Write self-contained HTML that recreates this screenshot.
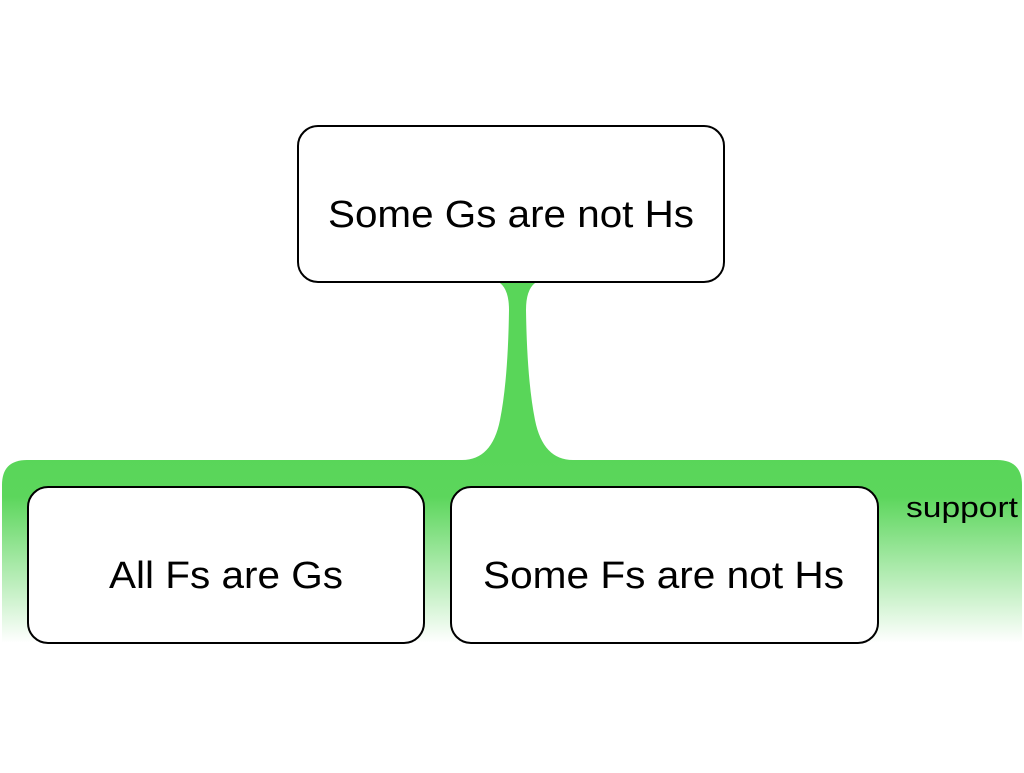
<!DOCTYPE html>
<html><head><style>
body{margin:0;background:#fff;width:1024px;height:768px;overflow:hidden;font-family:"Liberation Sans",sans-serif}
</style></head><body>
<svg width="1024" height="768" xmlns="http://www.w3.org/2000/svg">
<defs>
<linearGradient id="g" x1="0" y1="460" x2="0" y2="643" gradientUnits="userSpaceOnUse">
<stop offset="0" stop-color="#59d659"/>
<stop offset="0.2" stop-color="#5cd65c"/>
<stop offset="1" stop-color="#ffffff"/>
</linearGradient>
</defs>
<path d="M2,643 L2,485 Q2,460 27,460 L462,460 Q492,460 500,420 Q508,380 509,310 Q509,290 500,283 L535,283 Q526,290 526,310 Q527,380 535,420 Q543,460 573,460 L997,460 Q1022,460 1022,485 L1022,643 Z" fill="url(#g)"/>
<rect x="298" y="126" width="426" height="156" rx="20" fill="#fff" stroke="#000" stroke-width="2"/>
<rect x="28" y="487" width="396" height="156" rx="20" fill="#fff" stroke="#000" stroke-width="2"/>
<rect x="451" y="487" width="427" height="156" rx="20" fill="#fff" stroke="#000" stroke-width="2"/>
<g font-family="Liberation Sans, sans-serif" font-size="38" fill="#000">
<text x="328" y="227" textLength="366" lengthAdjust="spacingAndGlyphs">Some Gs are not Hs</text>
<text x="109" y="588" textLength="234" lengthAdjust="spacingAndGlyphs">All Fs are Gs</text>
<text x="483" y="588" textLength="361" lengthAdjust="spacingAndGlyphs">Some Fs are not Hs</text>
</g>
<text x="906" y="517" font-family="Liberation Sans, sans-serif" font-size="29" textLength="112" lengthAdjust="spacingAndGlyphs">support</text>
</svg>
</body></html>
